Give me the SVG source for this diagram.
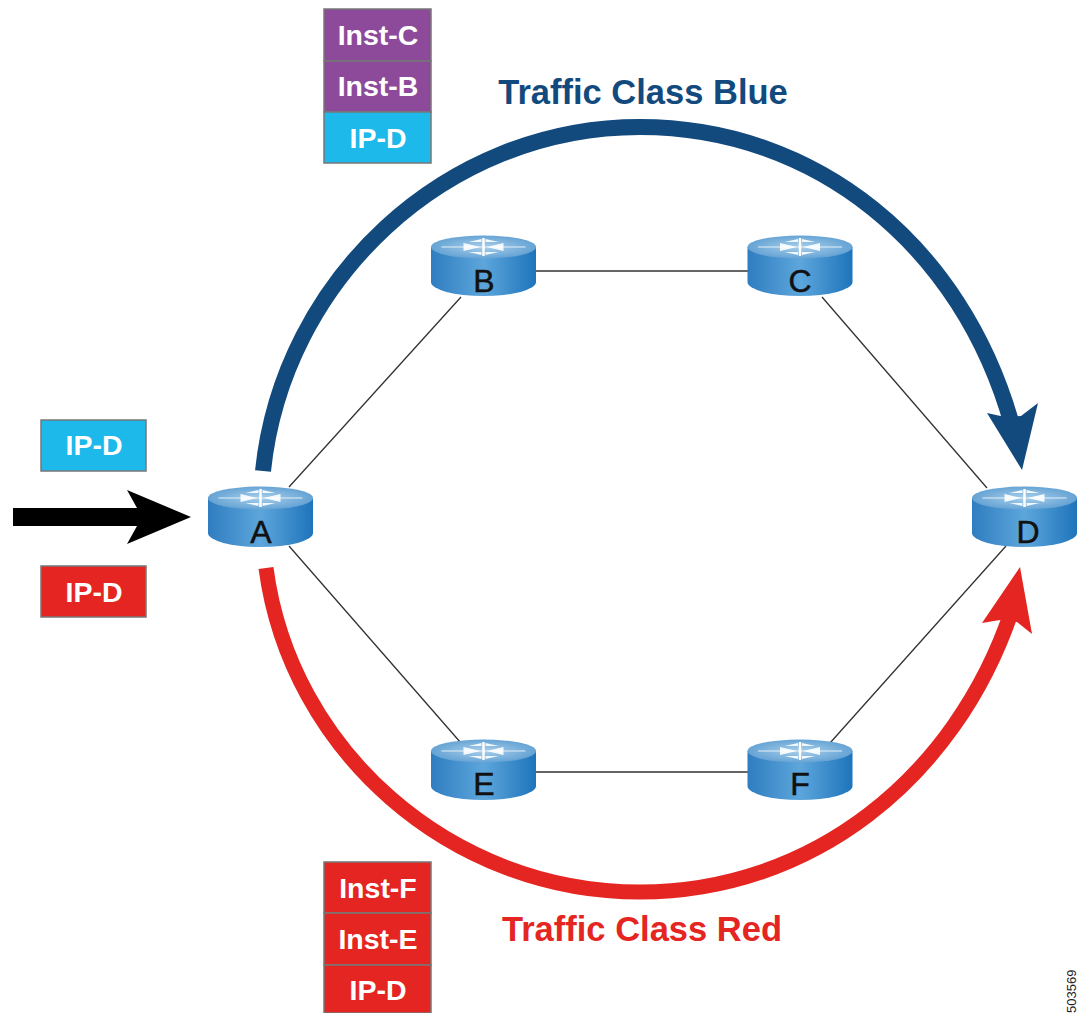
<svg xmlns="http://www.w3.org/2000/svg" width="1080" height="1013" viewBox="0 0 1080 1013">
<style>
text{font-family:"Liberation Sans",Arial,sans-serif;font-weight:bold}
.w{fill:#fff;font-size:28.500px;text-anchor:middle}
.n{fill:#111;font-size:32px;text-anchor:middle;font-weight:normal;stroke:#111;stroke-width:.5px}
.t{font-size:34.500px;text-anchor:middle}
.box{stroke:#777;stroke-width:1.500}
.link{stroke:#333;stroke-width:1.300;fill:none}
</style>
<defs>
<linearGradient id="side" x1="0" x2="1" y1="0" y2="0">
<stop offset="0" stop-color="#2f7dc0"/><stop offset=".5" stop-color="#5da6dc"/><stop offset="1" stop-color="#1e74bb"/>
</linearGradient>
<radialGradient id="top" cx=".5" cy=".5" r=".55">
<stop offset="0" stop-color="#a9cfeb"/><stop offset="1" stop-color="#5f9fd2"/>
</radialGradient>
<g id="router">
<path d="M-52.500-19V16A52.500 14 0 0 0 52.500 16V-19Z" fill="url(#side)"/>
<ellipse cx="0" cy="-19" rx="52.500" ry="11.500" fill="url(#top)"/>
<path d="M-42-19H42" stroke="#e3eff8" stroke-width="1.200" fill="none"/>
<path d="M0-28V-10" stroke="#fff" stroke-width="2.500" fill="none"/>
<path d="M-3-19l-17-4v8zM3-19l17-4v8zM-2-27l-13 3h13zM2-27l13 3h-13zM-2-11l-13-3h13zM2-11l13-3h-13z" fill="#fff" fill-opacity=".9"/>
</g>
</defs>
<rect width="1080" height="1013" fill="#fff"/>
<g id="connectors">
<path class="link" d="M289 487L461 297M289 546L461 743M535 271H748M535 772H748M822 297L987 488M830 743L1006 546"/>
<path fill="none" stroke="#134a7e" stroke-width="16" d="M263 471C283 280 445 127 640 127C815 127 962 245 1012 425"/>
<path fill="#134a7e" d="M987 413L1022 470L1038 403L1021 416L1005 417Z"/>
<path fill="none" stroke="#e52521" stroke-width="15" d="M266 568C290 750 450 892 640 892C810 892 955 780 1012 610"/>
<path fill="#e52521" d="M982 623L1020 567L1032 634L1017 622L1000 620Z"/>
<path fill="#000" d="M13 508H137L127 490L191 517L127 544L137 526H13Z"/>
</g>
<g id="node-a"><use href="#router" x="260.500" y="517"/><text class="n" x="261" y="543">A</text></g>
<g id="node-b"><use href="#router" x="483.500" y="266"/><text class="n" x="484" y="292">B</text></g>
<g id="node-c"><use href="#router" x="800" y="266"/><text class="n" x="800" y="292">C</text></g>
<g id="node-d"><use href="#router" x="1024.500" y="517"/><text class="n" x="1028" y="543">D</text></g>
<g id="node-e"><use href="#router" x="483.500" y="770"/><text class="n" x="484" y="795">E</text></g>
<g id="node-f"><use href="#router" x="800" y="770"/><text class="n" x="800" y="795">F</text></g>
<g id="stack-blue">
<rect class="box" x="324" y="9" width="107" height="52" fill="#8e4a9a"/><text class="w" x="378" y="45">Inst-C</text>
<rect class="box" x="324" y="61" width="107" height="51" fill="#8e4a9a"/><text class="w" x="378" y="96">Inst-B</text>
<rect class="box" x="324" y="112" width="107" height="51" fill="#1cb9ea"/><text class="w" x="378" y="148">IP-D</text>
</g>
<g id="stack-red">
<rect class="box" x="324" y="862" width="107" height="51" fill="#e52521"/><text class="w" x="378" y="898">Inst-F</text>
<rect class="box" x="324" y="913" width="107" height="52" fill="#e52521"/><text class="w" x="378" y="949">Inst-E</text>
<rect class="box" x="324" y="965" width="107" height="48" fill="#e52521"/><text class="w" x="378" y="1000">IP-D</text>
</g>
<g id="packet-blue"><rect class="box" x="41" y="420" width="105" height="51" fill="#1cb9ea"/><text class="w" x="94" y="455">IP-D</text></g>
<g id="packet-red"><rect class="box" x="41" y="566" width="105" height="51" fill="#e52521"/><text class="w" x="94" y="602">IP-D</text></g>
<text class="t" x="643" y="104" fill="#134a7e">Traffic Class Blue</text>
<text class="t" x="642" y="941" fill="#e52521">Traffic Class Red</text>
<text transform="translate(1076 1013) rotate(-90)" font-size="13" style="font-weight:normal" fill="#222">503569</text>
</svg>
